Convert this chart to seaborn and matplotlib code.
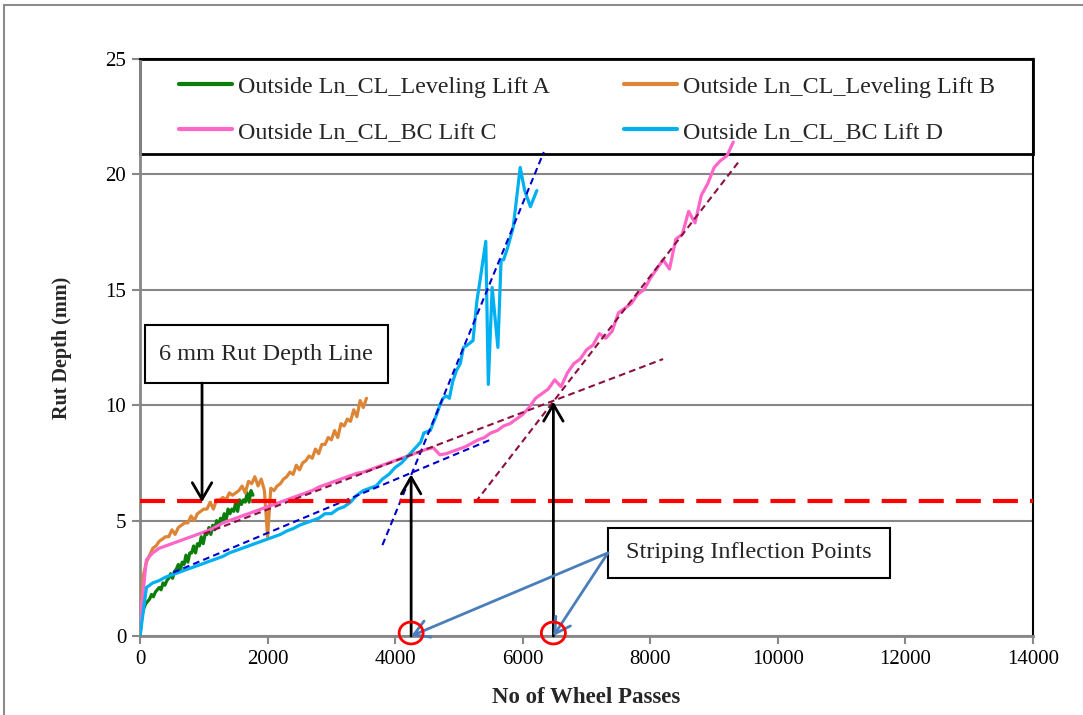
import numpy as np
import pandas as pd
import matplotlib
matplotlib.use("Agg")
import matplotlib.pyplot as plt
from matplotlib.patches import Rectangle, Ellipse
from matplotlib.lines import Line2D
import seaborn as sns

sns.set_theme(style="white")
plt.rcParams["font.family"] = ["Liberation Serif", "DejaVu Serif"]

# ---------------- data ----------------
labels = [
    "Outside Ln_CL_Leveling Lift A",
    "Outside Ln_CL_Leveling Lift B",
    "Outside Ln_CL_BC Lift C",
    "Outside Ln_CL_BC Lift D",
]
colors = ["#0a7d0a", "#dd8536", "#ff66c8", "#00b0f0"]

passes_a = np.arange(0, 1800, 30)
rut_a = [0.0, 0.9, 1.2, 1.4, 1.5, 1.6, 1.8, 1.7, 1.9, 2.0,
         2.1, 2.0, 2.3, 2.2, 2.4, 2.5, 2.7, 2.5, 2.8, 2.9,
         3.1, 2.8, 3.2, 3.1, 3.5, 3.2, 3.6, 3.6, 3.9, 3.6,
         4.0, 3.9, 4.3, 4.0, 4.4, 4.4, 4.7, 4.4, 4.8, 4.6,
         5.0, 4.7, 5.1, 5.0, 5.3, 5.0, 5.5, 5.3, 5.5, 5.4,
         5.8, 5.4, 5.9, 5.7, 5.9, 5.8, 6.2, 5.8, 6.3, 6.1]

passes_b = np.arange(0, 3600, 50)
rut_b = [0.4, 2.6, 3.2, 3.5, 3.8, 3.9, 4.1, 4.2, 4.3, 4.3,
         4.6, 4.4, 4.7, 4.8, 4.9, 4.9, 5.2, 5.0, 5.3, 5.4,
         5.5, 5.5, 5.8, 5.5, 5.9, 5.9, 6.0, 5.9, 6.2, 6.1,
         6.2, 6.3, 6.5, 6.2, 6.7, 6.6, 6.9, 6.5, 6.8, 6.3,
         4.3, 6.4, 6.3, 6.5, 6.6, 6.8, 6.9, 7.1, 7.0, 7.4,
         7.2, 7.5, 7.6, 7.8, 7.7, 8.1, 7.9, 8.3, 8.3, 8.6,
         8.5, 8.9, 8.6, 9.2, 9.1, 9.4, 9.3, 9.8, 9.5, 10.2,
         9.9, 10.3]

passes_c = np.arange(0, 9400, 100)
rut_c = [0.6, 3.3, 3.6, 3.8, 3.9, 4.0, 4.1, 4.2, 4.3, 4.4,
         4.5, 4.6, 4.75, 4.9, 5.0, 5.1, 5.2, 5.3, 5.4, 5.5,
         5.6, 5.7, 5.8, 5.9, 6.0, 6.1, 6.2, 6.3, 6.45, 6.55,
         6.65, 6.75, 6.85, 6.95, 7.05, 7.1, 7.2, 7.3, 7.4, 7.5,
         7.6, 7.7, 7.8, 7.9, 8.0, 8.1, 8.15, 7.85, 7.9, 8.0,
         8.1, 8.2, 8.35, 8.5, 8.6, 8.8, 8.9, 9.1, 9.2, 9.4,
         9.6, 9.9, 10.3, 10.5, 10.7, 11.1, 10.8, 11.4, 11.8, 12.0,
         12.4, 12.6, 13.1, 12.9, 13.2, 14.0, 14.2, 14.4, 14.8, 15.0,
         15.5, 15.9, 16.3, 15.9, 17.2, 17.4, 18.4, 17.9, 19.1, 19.6,
         20.3, 20.6, 20.8, 21.4]

passes_d = list(range(0, 4500, 100)) + [
    4450, 4550, 4650, 4700, 4750, 4800, 4850, 4900, 4960, 5020,
    5070, 5130, 5220, 5280, 5330, 5420, 5460, 5520, 5610, 5660,
    5700, 5760, 5850, 5960, 6030, 6120, 6220]
rut_d = [0.0, 2.1, 2.3, 2.4, 2.55, 2.65, 2.75, 2.85, 2.95, 3.05,
         3.15, 3.25, 3.35, 3.45, 3.6, 3.7, 3.8, 3.9, 4.0, 4.1,
         4.2, 4.3, 4.4, 4.55, 4.65, 4.8, 4.9, 5.0, 5.1, 5.3,
         5.3, 5.5, 5.6, 5.8, 6.1, 6.3, 6.4, 6.5, 6.8, 7.0,
         7.3, 7.5, 7.8, 8.1, 8.4,
         8.8, 8.9, 9.6, 10.0, 10.3, 10.4, 10.3, 11.0, 11.5, 11.8,
         12.5, 12.6, 12.8, 14.5, 15.4, 17.1, 10.9, 15.1, 12.5, 16.3,
         16.3, 16.8, 17.7, 20.3, 19.3, 18.6, 19.3]

# fitted trend lines (end points)
trend_d_flat_x, trend_d_flat_y = [520, 5490], [2.75, 8.5]
trend_d_steep_x, trend_d_steep_y = [3800, 6330], [3.94, 20.97]
trend_c_flat_x, trend_c_flat_y = [1000, 8200], [4.43, 12.0]
trend_c_steep_x, trend_c_steep_y = [5260, 9400], [5.8, 20.6]

# inflection points (wheel passes, rut depth)
inflection_x = [4250, 6480]
inflection_y = [7.0, 10.15]

rut_limit = 5.85
limit_note_x = 972

series = [
    (passes_a, rut_a), (passes_b, rut_b), (passes_c, rut_c), (passes_d, rut_d)
]

# ---------------- figure ----------------
fig = plt.figure(figsize=(10.83, 7.15), dpi=100)
ax = fig.add_axes([0.1293, 0.1105, 0.8246, 0.8070])

grey = "#878787"

# legend frame sits under the data lines
ax.add_patch(Rectangle((0, 0.8354), 1, 0.1646, transform=ax.transAxes,
                       facecolor="white", edgecolor="black", lw=2,
                       zorder=2, clip_on=False))

for (px, ry), lab, col in zip(series, labels, colors):
    df = pd.DataFrame({"passes": px, "rut": ry})
    sns.lineplot(data=df, x="passes", y="rut", color=col, lw=2.3,
                 estimator=None, sort=False, ax=ax, legend=False, zorder=3)

# trend lines
ax.plot(trend_d_flat_x, trend_d_flat_y, color="#0000cc", lw=1.5, dashes=(3.2, 2), zorder=4)
ax.plot(trend_d_steep_x, trend_d_steep_y, color="#0000cc", lw=1.5, dashes=(3.2, 2), zorder=4)
ax.plot(trend_c_flat_x, trend_c_flat_y, color="#8b1040", lw=1.5, dashes=(3.2, 2), zorder=4)
ax.plot(trend_c_steep_x, trend_c_steep_y, color="#8b1040", lw=1.5, dashes=(3.2, 2), zorder=4)

# 6 mm limit line
ax.axhline(rut_limit, color="#ff0000", lw=3, dashes=(6, 2.9), zorder=5)

ax.set_xlim(0, 14000)
ax.set_ylim(0, 25)
ax.set_xticks(range(0, 14001, 2000))
ax.set_yticks(range(0, 26, 5))
ax.yaxis.grid(True, color=grey, lw=1.5)
ax.xaxis.grid(False)
ax.set_axisbelow(True)
ax.tick_params(axis="both", direction="out", length=6, width=1.5, color=grey,
               labelsize=15, pad=4, labelcolor="black")
ax.tick_params(axis="x", bottom=True)
ax.tick_params(axis="y", left=True)
for s in ["left", "bottom"]:
    ax.spines[s].set_color(grey)
    ax.spines[s].set_linewidth(2)
for s in ["right", "top"]:
    ax.spines[s].set_color("black")
    ax.spines[s].set_linewidth(1.5)

ax.set_xlabel("No of Wheel Passes", fontsize=16.5, fontweight="bold", labelpad=13)
ax.set_ylabel("Rut Depth (mm)", fontsize=14.5, fontweight="bold", labelpad=24)

# legend entries
handles = [Line2D([], [], color=c, lw=3) for c in colors]
leg_kw = dict(loc="upper left", frameon=False, fontsize=17.3, borderpad=0,
              borderaxespad=0, handlelength=2.2, handletextpad=0.25,
              labelspacing=0.98)
leg1 = ax.legend([handles[0], handles[2]], [labels[0], labels[2]],
                 bbox_to_anchor=(0.0437, 0.971), **leg_kw)
leg1.set_zorder(7)
ax.add_artist(leg1)
leg2 = ax.legend([handles[1], handles[3]], [labels[1], labels[3]],
                 bbox_to_anchor=(0.542, 0.971), **leg_kw)
leg2.set_zorder(7)

# 6 mm note box and arrow
ax.add_patch(Rectangle((78, 10.96), 3809, 2.51, facecolor="white",
                       edgecolor="black", lw=1.5, zorder=6))
ax.text(1975, 12.2, "6 mm Rut Depth Line", fontsize=17.5, ha="center",
        va="center", zorder=7)
arrow_black = dict(arrowstyle="->,head_length=0.6,head_width=0.35",
                   lw=2, color="black", shrinkA=0, shrinkB=0, mutation_scale=20)
ax.annotate("", xy=(limit_note_x, rut_limit - 0.05), xytext=(limit_note_x, 10.96),
            arrowprops=arrow_black, zorder=8)

# inflection arrows
for xi, yi in zip(inflection_x, inflection_y):
    ax.annotate("", xy=(xi, yi), xytext=(xi, 0), arrowprops=arrow_black, zorder=8)

# inflection note box with pointers
ax.add_patch(Rectangle((7335, 2.51), 4420, 2.17, facecolor="white",
                       edgecolor="black", lw=1.5, zorder=6))
ax.text(9545, 3.6, "Striping Inflection Points", fontsize=17.5, ha="center",
        va="center", zorder=7)
arrow_blue = dict(arrowstyle="->,head_length=0.6,head_width=0.35",
                  lw=2, color="#4a7ebb", shrinkA=0, shrinkB=0, mutation_scale=18)
for xi in inflection_x:
    ax.annotate("", xy=(xi, 0.0), xytext=(7335, 3.6), arrowprops=arrow_blue, zorder=8)
    ax.add_patch(Ellipse((xi, 0.13), 376, 0.95, fill=False, edgecolor="#ff0000",
                         lw=2, zorder=9, clip_on=False))

# outer chart border
fig.add_artist(Line2D([0.0037, 1.0], [0.993, 0.993], color="#8c8c8c", lw=1.5,
                      transform=fig.transFigure))
fig.add_artist(Line2D([0.0037, 0.0037], [0.0, 0.993], color="#8c8c8c", lw=1.5,
                      transform=fig.transFigure))

fig.savefig("out.png", dpi=100, facecolor="white")
